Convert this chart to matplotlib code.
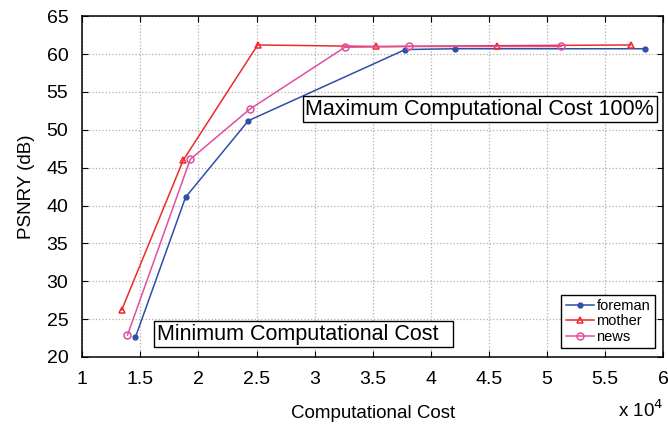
import matplotlib
matplotlib.use("Agg")
import matplotlib.pyplot as plt
from matplotlib.ticker import FuncFormatter

plt.rcParams['font.family'] = ['Liberation Sans', 'DejaVu Sans']

# computational cost (raw units) and PSNR-Y in dB per sequence
foreman_cost = [14580, 18900, 24300, 37800, 42100, 58400]
foreman_psnr = [22.6, 41.1, 51.2, 60.6, 60.7, 60.7]
mother_cost = [13400, 18700, 25100, 35300, 45700, 57200]
mother_psnr = [26.2, 46.0, 61.2, 61.0, 61.1, 61.2]
news_cost = [13900, 19300, 24400, 32600, 38100, 51200]
news_psnr = [22.9, 46.1, 52.7, 60.9, 61.0, 61.0]

xticks = [10000, 15000, 20000, 25000, 30000, 35000, 40000, 45000, 50000, 55000, 60000]
yticks = [20, 25, 30, 35, 40, 45, 50, 55, 60, 65]

fig = plt.figure(figsize=(6.68, 4.26), dpi=100)
ax = fig.add_axes([0.123, 0.162, 0.870, 0.800])

ax.plot(foreman_cost, foreman_psnr, color='#2f4fa8', marker='.', markersize=7,
        lw=1.1, label='foreman')
ax.plot(mother_cost, mother_psnr, color='#ee2a2a', marker='^', markersize=5,
        markerfacecolor='none', markeredgewidth=1.1, lw=1.1, label='mother')
ax.plot(news_cost, news_psnr, color='#e0509e', marker='o', markersize=5,
        markerfacecolor='none', markeredgewidth=1.1, lw=1.1, label='news')

ax.set_xlim(10000, 60000)
ax.set_ylim(20, 65)
ax.set_xticks(xticks)
ax.set_yticks(yticks)
ax.xaxis.set_major_formatter(FuncFormatter(lambda v, p: '%g' % (v / 1e4)))
ax.tick_params(direction='in', top=True, right=True, labelsize=14, length=4)
ax.tick_params(axis='x', pad=10)
ax.tick_params(axis='y', pad=10)
ax.grid(True, linestyle=':', color='#b0b0b0', linewidth=0.9)
for s in ax.spines.values():
    s.set_linewidth(1.1)

ax.set_xlabel('Computational Cost', fontsize=13.5, labelpad=12)
ax.set_ylabel('PSNRY (dB)', fontsize=13.5, labelpad=8)
fig.text(0.993, 0.012, r'x 10$^4$', ha='right', va='bottom', fontsize=13.5)

box = dict(boxstyle='square,pad=0.12', facecolor='white', edgecolor='black', linewidth=1)
ax.text(29200, 52.7, 'Maximum Computational Cost 100%', fontsize=15.5,
        va='center', ha='left', bbox=box)
ax.text(16400, 23.0, 'Minimum Computational Cost  ', fontsize=15.5,
        va='center', ha='left', bbox=box)

leg = ax.legend(loc='lower right', fontsize=10.5, fancybox=False, framealpha=1,
                edgecolor='black', borderpad=0.3, labelspacing=0.1,
                handlelength=1.9, handletextpad=0.2, borderaxespad=0.6)
leg.get_frame().set_linewidth(1)

fig.savefig('out.png', dpi=100)
